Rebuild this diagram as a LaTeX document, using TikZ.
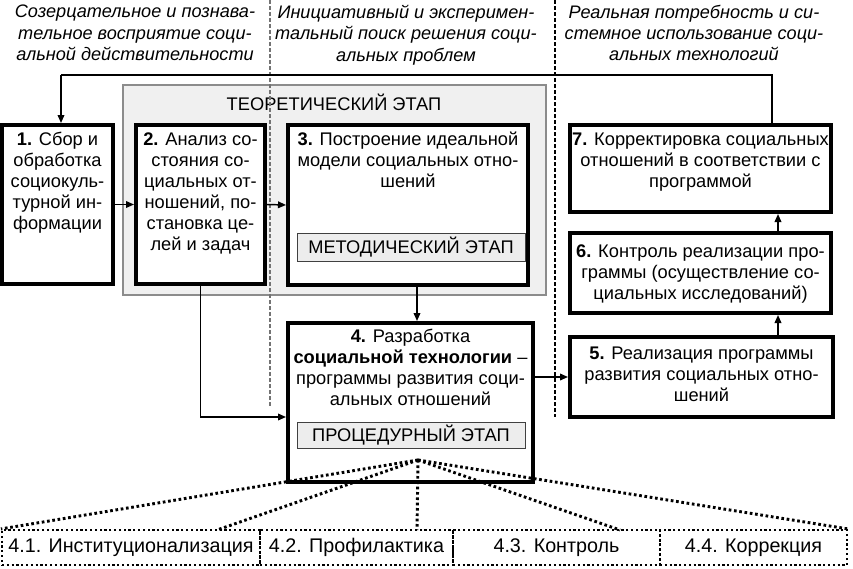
\documentclass[tikz,border=0pt]{standalone}
\usepackage{fontspec}
\setmainfont{Liberation Sans}
\usetikzlibrary{arrows.meta,fit}
\begin{document}
\begin{tikzpicture}[x=0.75pt,y=-0.75pt,
  every node/.style={font=\fontsize{13.7}{15.75}\selectfont},
  box/.style={draw, line width=3pt, fill=white, inner sep=0pt},
  txt/.style={anchor=north, align=center, inner sep=0pt},
  hdr/.style={txt, font=\fontsize{13.6}{15.9}\selectfont\itshape},
  stagebox/.style={draw=black!75, line width=0.7pt, fill=black!7, inner sep=0pt},
  arr/.style={line width=1.1pt, -{Triangle[length=6pt,width=5pt]}},
  fan/.style={line width=2.2pt, dash pattern=on 2pt off 2pt},
  cell/.style={draw, line width=1.6pt, dash pattern=on 1.6pt off 2pt, inner sep=0pt},
  celltxt/.style={inner sep=0pt, font=\fontsize{14.8}{16}\selectfont}
]
\useasboundingbox (0,0) rectangle (853,568);

% headers
\node[hdr] (h1) at (135,5) {Созерцательное и познава-\\тельное восприятие соци-\\альной действительности};
\node[hdr] (h2) at (406,5) {Инициативный и эксперимен-\\тальный поиск решения соци-\\альных проблем};
\node[hdr] (h3) at (694,5) {Реальная потребность и си-\\стемное использование соци-\\альных технологий};

% theoretical stage
\node[draw=black!45, line width=0.8pt, fill=black!6, inner sep=0pt, fit={(123,85)(546,295)}] (th) {};
\node[inner sep=0pt] (thl) at (334,102) {ТЕОРЕТИЧЕСКИЙ ЭТАП};

% column separators
\coordinate (s1t) at (270,0);
\coordinate (s1b) at (270,408);
\coordinate (s2t) at (555,0);
\coordinate (s2b) at (555,417);
\draw[black!55, line width=0.8pt, dash pattern=on 3pt off 1.5pt] (s1t) -- (s1b);
\draw[black, line width=0.8pt, dash pattern=on 3pt off 1.5pt] (s2t) -- (s2b);

% boxes
\node[box, fit={(2,125)(113,284)}] (b1) {};
\node[box, fit={(136,125)(265,284)}] (b2) {};
\node[box, fit={(288,125)(528,285)}] (b3) {};
\node[box, fit={(288,323)(533,482)}] (b4) {};
\node[box, fit={(570,337)(833,417)}] (b5) {};
\node[box, fit={(570,233)(831,313)}] (b6) {};
\node[box, fit={(570,125)(831,212)}] (b7) {};

\node[stagebox, fit={(297,233)(525,261)}] (m3) {};
\node[inner sep=0pt] (m3t) at (m3.center) {МЕТОДИЧЕСКИЙ ЭТАП};
\node[stagebox, fit={(297,422)(525,448)}] (m4) {};
\node[inner sep=0pt] (m4t) at (m4.center) {ПРОЦЕДУРНЫЙ ЭТАП};

% box texts
\node[txt] (t1) at (57.5,132) {\textbf{1.} Сбор и\\обработка\\социокуль-\\турной ин-\\формации};
\node[txt] (t2) at (200.5,132) {\textbf{2.} Анализ со-\\стояния со-\\циальных от-\\ношений, по-\\становка це-\\лей и задач};
\node[txt] (t3) at (408,132) {\textbf{3.} Построение идеальной\\модели социальных отно-\\шений};
\node[txt] (t4) at (410.5,329) {\textbf{4.} Разработка\\\textbf{социальной технологии} –\\программы развития соци-\\альных отношений};
\node[txt] (t5) at (701.5,347) {\textbf{5.} Реализация программы\\развития социальных отно-\\шений};
\node[txt] (t6) at (700.5,244) {\textbf{6.} Контроль реализации про-\\граммы (осуществление со-\\циальных исследований)};
\node[txt] (t7) at (700.5,133) {\textbf{7.} Корректировка социальных\\отношений в соответствии с\\программой};

% arrows
\coordinate (f1) at (772,75);
\coordinate (f2) at (61,75);
\draw[line width=1.1pt] (b7.north -| f1) -- (f1) -- (f2);
\draw[arr] (f2) -- (f2 |- b1.north);
\draw[arr] (b1.east) -- (b2.west);
\draw[arr] (b2.east) -- (b3.west);
\coordinate (x34) at (417,0);
\draw[arr] (b3.south -| x34) -- (b4.north -| x34);
\coordinate (y24) at (0,417);
\draw[arr] (b2.south) |- (b4.west |- y24);
\coordinate (y45) at (0,377);
\draw[arr] (b4.east |- y45) -- (b5.west |- y45);
\coordinate (x56) at (778,0);
\draw[arr] (b5.north -| x56) -- (b6.south -| x56);
\draw[arr] (b6.north -| x56) -- (b7.south -| x56);

% bottom cells
\node[cell, fit={(2,530)(260,565)}] (c1) {};
\node[cell, fit={(260,530)(453,565)}] (c2) {};
\node[cell, fit={(453,530)(660,565)}] (c3) {};
\node[cell, fit={(660,530)(847,565)}] (c4) {};
\node[celltxt] (c1t) at (c1.center) {4.1. Институционализация};
\node[celltxt] (c2t) at (c2.center) {4.2. Профилактика};
\node[celltxt] (c3t) at (c3.center) {4.3. Контроль};
\node[celltxt] (c4t) at (c4.center) {4.4. Коррекция};

% fan
\coordinate (apex) at (418,460);
\coordinate (e2) at (217,530);
\coordinate (e3) at (417,530);
\coordinate (e4) at (620,530);
\draw[fan] (apex) -- (c1.north west);
\draw[fan] (apex) -- (e2);
\draw[fan] (apex) -- (e3);
\draw[fan] (apex) -- (e4);
\draw[fan] (apex) -- (c4.north east);
\end{tikzpicture}
\end{document}
